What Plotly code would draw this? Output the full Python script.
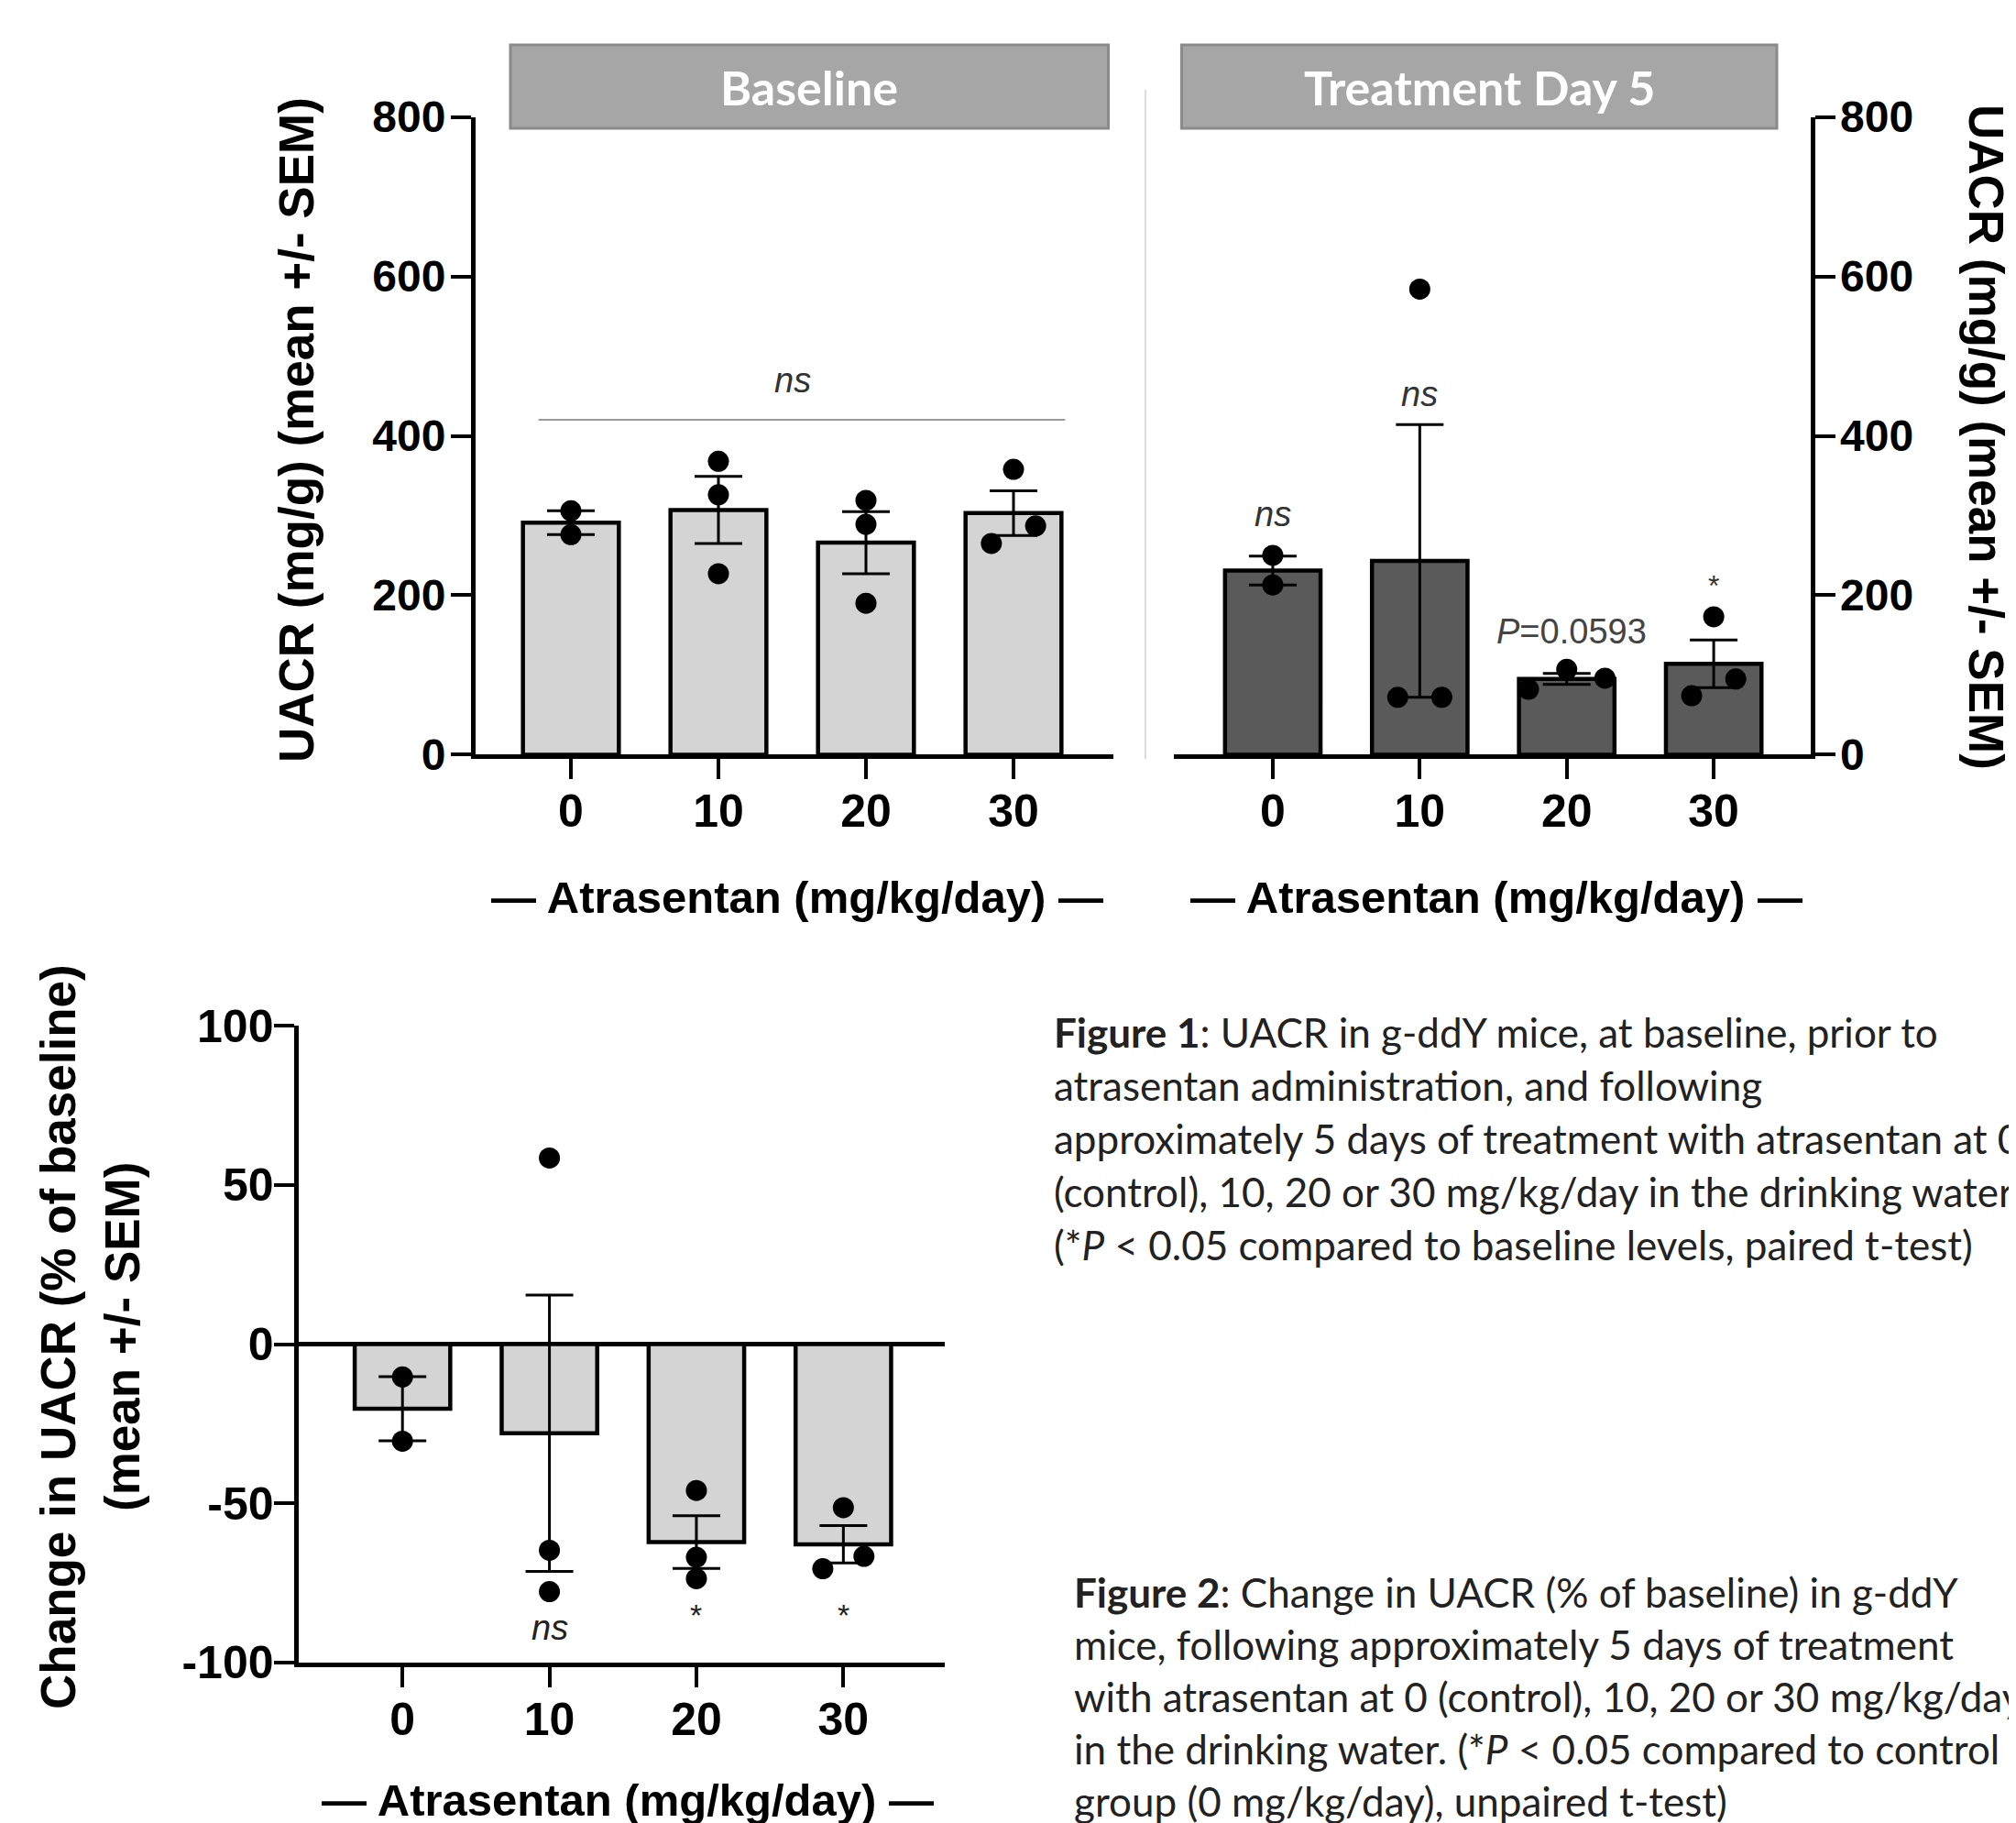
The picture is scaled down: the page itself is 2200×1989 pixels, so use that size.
import plotly.graph_objects as go

W, H = 2200, 1989
PAGE_OFFSET = 8  # default body margin of the html page

# ---------------- data ----------------
doses = ["0", "10", "20", "30"]

baseline_mean = [291, 307, 266, 303]
baseline_sem = [15, 42, 39, 28]
baseline_points = [[306, 276], [368, 326, 227], [319, 289, 190], [358, 265, 287]]

day5_mean = [231, 243, 95, 114]
day5_sem = [18, 171, 7, 30]
day5_points = [[250, 213], [584, 72, 72], [82, 107, 96], [173, 74, 95]]

change_mean = [-20.3, -28.0, -62.2, -62.9]
change_sem = [10.1, 43.4, 8.3, 5.9]
change_points = [[-10.3, -30.5], [58.5, -64.8, -77.8], [-46.0, -67.0, -73.7], [-51.4, -70.6, -66.7]]

uacr_ticks = [0, 200, 400, 600, 800]
change_ticks = [-100, -50, 0, 50, 100]
change_ticktext = ["-100", "-50", "0", "50", "100"]

# ---------------- style ----------------
baseline_offsets = [[0, 0], [0, 0, 0], [0, 0, 0], [0, -0.15, 0.15]]
day5_offsets = [[0, 0], [0, -0.15, 0.15], [-0.26, 0, 0.26], [0, -0.15, 0.15]]
change_offsets = [[0, 0], [0, 0, 0], [0, 0, 0], [0, -0.14, 0.14]]

AX_FONT = "Liberation Sans, Arial, Helvetica, sans-serif"
CAP_FONT = "Lato, Calibri, Open Sans, sans-serif"
LIGHT = "#d4d4d4"
DARK = "#5a5a5a"


def px(x):
    return (x - PAGE_OFFSET) / W


def py(y):
    return 1 - (y - PAGE_OFFSET) / H


fig = go.Figure()


def add_panel(xa, ya, means, sems, points, offsets, fill):
    idx = list(range(len(doses)))
    fig.add_trace(go.Bar(
        x=idx, y=means, width=0.65, xaxis=xa, yaxis=ya,
        marker=dict(color=fill, line=dict(color="black", width=4.5)),
        error_y=dict(type="data", array=sems, visible=True, color="black",
                     thickness=3, width=26),
        showlegend=False, hoverinfo="skip",
    ))
    xs, ys = [], []
    for i, (pts, offs) in enumerate(zip(points, offsets)):
        for v, o in zip(pts, offs):
            xs.append(i + o)
            ys.append(v)
    fig.add_trace(go.Scatter(
        x=xs, y=ys, mode="markers", xaxis=xa, yaxis=ya,
        marker=dict(color="black", size=23),
        showlegend=False, hoverinfo="skip",
    ))


add_panel("x", "y", baseline_mean, baseline_sem, baseline_points, baseline_offsets, LIGHT)
add_panel("x2", "y2", day5_mean, day5_sem, day5_points, day5_offsets, DARK)
add_panel("x3", "y3", change_mean, change_sem, change_points, change_offsets, LIGHT)

axis_common = dict(
    showline=True, linewidth=5, linecolor="black", mirror=False,
    ticks="outside", ticklen=22, tickwidth=4, tickcolor="black",
    showgrid=False, zeroline=False, fixedrange=True, automargin=False,
)

xcat = dict(tickvals=[0, 1, 2, 3], ticktext=doses, ticklabelstandoff=-8)
tf48 = dict(family=AX_FONT, size=48, color="black", weight="bold")
tf50 = dict(family=AX_FONT, size=50, color="black", weight="bold")

fig.update_layout(
    width=W, height=H,
    margin=dict(l=0, r=0, t=0, b=0, pad=0, autoexpand=False),
    paper_bgcolor="white", plot_bgcolor="rgba(0,0,0,0)",
    showlegend=False,
    xaxis=dict(**axis_common, **xcat, domain=[px(519), px(1215)], range=[-0.646, 3.677],
               anchor="y", tickfont=tf50),
    yaxis=dict(**axis_common, domain=[py(823.4), py(127.6)], range=[0, 800], anchor="x",
               tickvals=uacr_ticks, tickfont=tf48, ticklabelstandoff=-4),
    xaxis2=dict(**axis_common, **xcat, domain=[px(1281), px(1975.5)], range=[-0.673, 3.657],
                anchor="y2", tickfont=tf50),
    yaxis2=dict(**axis_common, domain=[py(823.4), py(127.6)], range=[0, 800], anchor="x2",
                side="right", tickvals=uacr_ticks, tickfont=tf48, ticklabelstandoff=-4),
    xaxis3=dict(**axis_common, **xcat, domain=[px(325.5), px(1031)], range=[-0.709, 3.690],
                anchor="y3", tickfont=tf50),
    yaxis3=dict(**{**axis_common, "zeroline": True}, zerolinecolor="black", zerolinewidth=5,
                domain=[py(1813.7), py(1119.3)], range=[-100, 100], anchor="x3",
                tickvals=change_ticks, ticktext=change_ticktext, tickfont=tf50,
                ticklabelstandoff=-10),
)

shapes = []
# header boxes
for x0, x1 in [(557, 1209.5), (1289.4, 1939)]:
    shapes.append(dict(type="rect", xref="paper", yref="paper",
                       x0=px(x0), x1=px(x1), y0=py(140), y1=py(49),
                       fillcolor="#a6a6a6", line=dict(color="#8a8a8a", width=3), layer="below"))
# divider
shapes.append(dict(type="line", xref="paper", yref="paper",
                   x0=px(1250), x1=px(1250), y0=py(828), y1=py(98),
                   line=dict(color="#dcdcdc", width=2)))
# ns line baseline
shapes.append(dict(type="line", xref="x", yref="y", x0=-0.22, x1=3.35, y0=420, y1=420,
                   line=dict(color="#9a9a9a", width=2)))
fig.update_layout(shapes=shapes)

ann = []


def text(x, y, t, size, xref="paper", yref="paper", color="black", family=AX_FONT,
         angle=0, xanchor="center", yanchor="middle"):
    ann.append(dict(x=x, y=y, xref=xref, yref=yref, text=t, showarrow=False,
                    font=dict(size=size, color=color, family=family), textangle=angle,
                    xanchor=xanchor, yanchor=yanchor))


# headers
text(px(883), py(95.5), "<b>Baseline</b>", 52, color="white", family=CAP_FONT)
text(px(1614), py(95.5), "<b>Treatment Day 5</b>", 52, color="white", family=CAP_FONT)

# axis titles
ytitle = "<b>UACR (mg/g) (mean +/- SEM)</b>"
text(px(323), py(469), ytitle, 53, angle=-90)
text(px(2168), py(477), ytitle, 53, angle=90)
xtitle = "<b>— Atrasentan (mg/kg/day) —</b>"
text(px(870), py(979), xtitle, 49)
text(px(1633), py(979), xtitle, 49)
text(px(685), py(1964), xtitle, 49)
text(px(63), py(1459), "<b>Change in UACR (% of baseline)</b>", 53, angle=-90)
text(px(133), py(1459), "<b>(mean +/- SEM)</b>", 53, angle=-90)

# significance labels
text(1.5, 470, "<i>ns</i>", 38, xref="x", yref="y", color="#333333")
text(0, 302, "<i>ns</i>", 38, xref="x2", yref="y2", color="#333333")
text(1, 452, "<i>ns</i>", 38, xref="x2", yref="y2", color="#333333")
text(2.03, 155, "<i>P</i>=0.0593", 38, xref="x2", yref="y2", color="#444444")
text(3, 212, "*", 32, xref="x2", yref="y2", color="#333333")
text(1, -89, "<i>ns</i>", 38, xref="x3", yref="y3", color="#222222")
text(2, -85, "*", 34, xref="x3", yref="y3", color="#222222")
text(3, -85, "*", 34, xref="x3", yref="y3", color="#222222")

# captions
cap1 = [
    "<b>Figure 1</b>: UACR in g-ddY mice, at baseline, prior to",
    "atrasentan administration, and following",
    "approximately 5 days of treatment with atrasentan at 0",
    "(control), 10, 20 or 30 mg/kg/day in the drinking water",
    "(*<i>P</i> &lt; 0.05 compared to baseline levels, paired t-test)",
]
for i, line in enumerate(cap1):
    text(px(1148), py(1126 + i * 58), line, 44, color="#222222", family=CAP_FONT, xanchor="left")

cap2 = [
    "<b>Figure 2</b>: Change in UACR (% of baseline) in g-ddY",
    "mice, following approximately 5 days of treatment",
    "with atrasentan at 0 (control), 10, 20 or 30 mg/kg/day",
    "in the drinking water. (*<i>P</i> &lt; 0.05 compared to control",
    "group (0 mg/kg/day), unpaired t-test)",
]
for i, line in enumerate(cap2):
    text(px(1170), py(1736.5 + i * 57.2), line, 44, color="#222222", family=CAP_FONT, xanchor="left")

fig.update_layout(annotations=ann)

fig.write_html("out.html")
